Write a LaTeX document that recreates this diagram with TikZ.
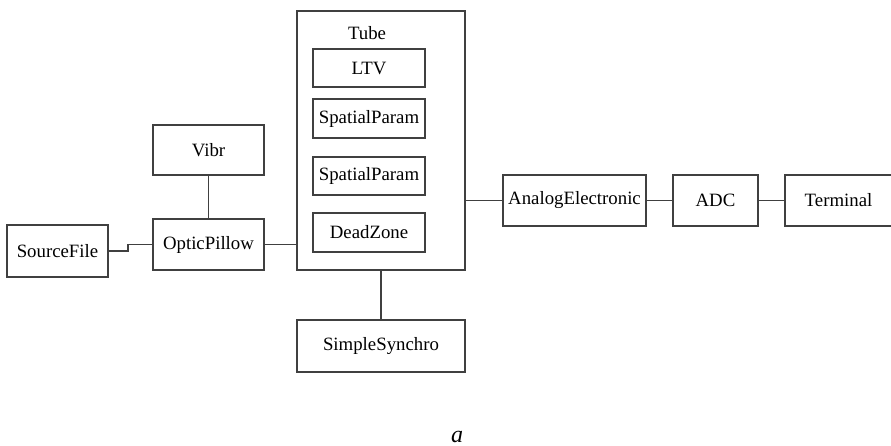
\documentclass[tikz,border=0pt]{standalone}
\usepackage{fontspec}
\setmainfont{Liberation Serif}
\begin{document}
\begin{tikzpicture}[x=1pt,y=-1pt,
  block/.style={draw=black!75, line width=1.4pt, inner sep=0pt, fill=white,
    font=\fontsize{18.8}{22}\selectfont},
  wire/.style={draw=black!75, line width=1.7pt}]
\useasboundingbox (0,0) rectangle (891,446);

% outer Tube container and its label
\node[block, minimum width=168pt, minimum height=259pt] (tube) at (381,140.5) {};
\node[font=\fontsize{18.8}{22}\selectfont, inner sep=0pt] (tubelbl) at (367,33) {Tube};

% blocks inside the Tube
\node[block, minimum width=112pt, minimum height=38pt] (ltv) at (369,68) {LTV};
\node[block, minimum width=112pt, minimum height=39pt] (sp1) at (369,118.5) {SpatialParam};
\node[block, minimum width=112pt, minimum height=38pt] (sp2) at (369,176) {SpatialParam};
\node[block, minimum width=112pt, minimum height=39pt] (dz) at (369,232.5) {DeadZone};

% left side
\node[block, minimum width=101pt, minimum height=52pt] (src) at (57.5,251) {SourceFile};
\node[block, minimum width=111pt, minimum height=51pt] (opt) at (208.5,244.5) {OpticPillow};
\node[block, minimum width=111pt, minimum height=50pt] (vib) at (208.5,150) {Vibr};

% below
\node[block, minimum width=168pt, minimum height=52pt] (sync) at (381,346) {SimpleSynchro};

% right chain
\node[block, minimum width=143pt, minimum height=51pt] (ae) at (574.5,200.5) {AnalogElectronic};
\node[block, minimum width=85pt, minimum height=51pt] (adc) at (715.5,200.5) {ADC};
\node[block, minimum width=107pt, minimum height=51pt] (term) at (838.5,200.5) {Terminal};

% connectors
\coordinate (jog) at (128,0);
\draw[wire] (src.east) -- (jog |- src.east) -- (jog |- opt.west) -- (opt.west);
\draw[wire] (vib.south) -- (opt.north);
\draw[wire] (opt.east) -- (tube.west |- opt.east);
\draw[wire] (tube.south) -- (sync.north);
\draw[wire] (tube.east |- ae.west) -- (ae.west);
\draw[wire] (ae.east) -- (adc.west);
\draw[wire] (adc.east) -- (term.west);

% caption
\node[font=\fontsize{24}{28}\selectfont\itshape, inner sep=0pt] (cap) at (457,437) {a};
\end{tikzpicture}
\end{document}
